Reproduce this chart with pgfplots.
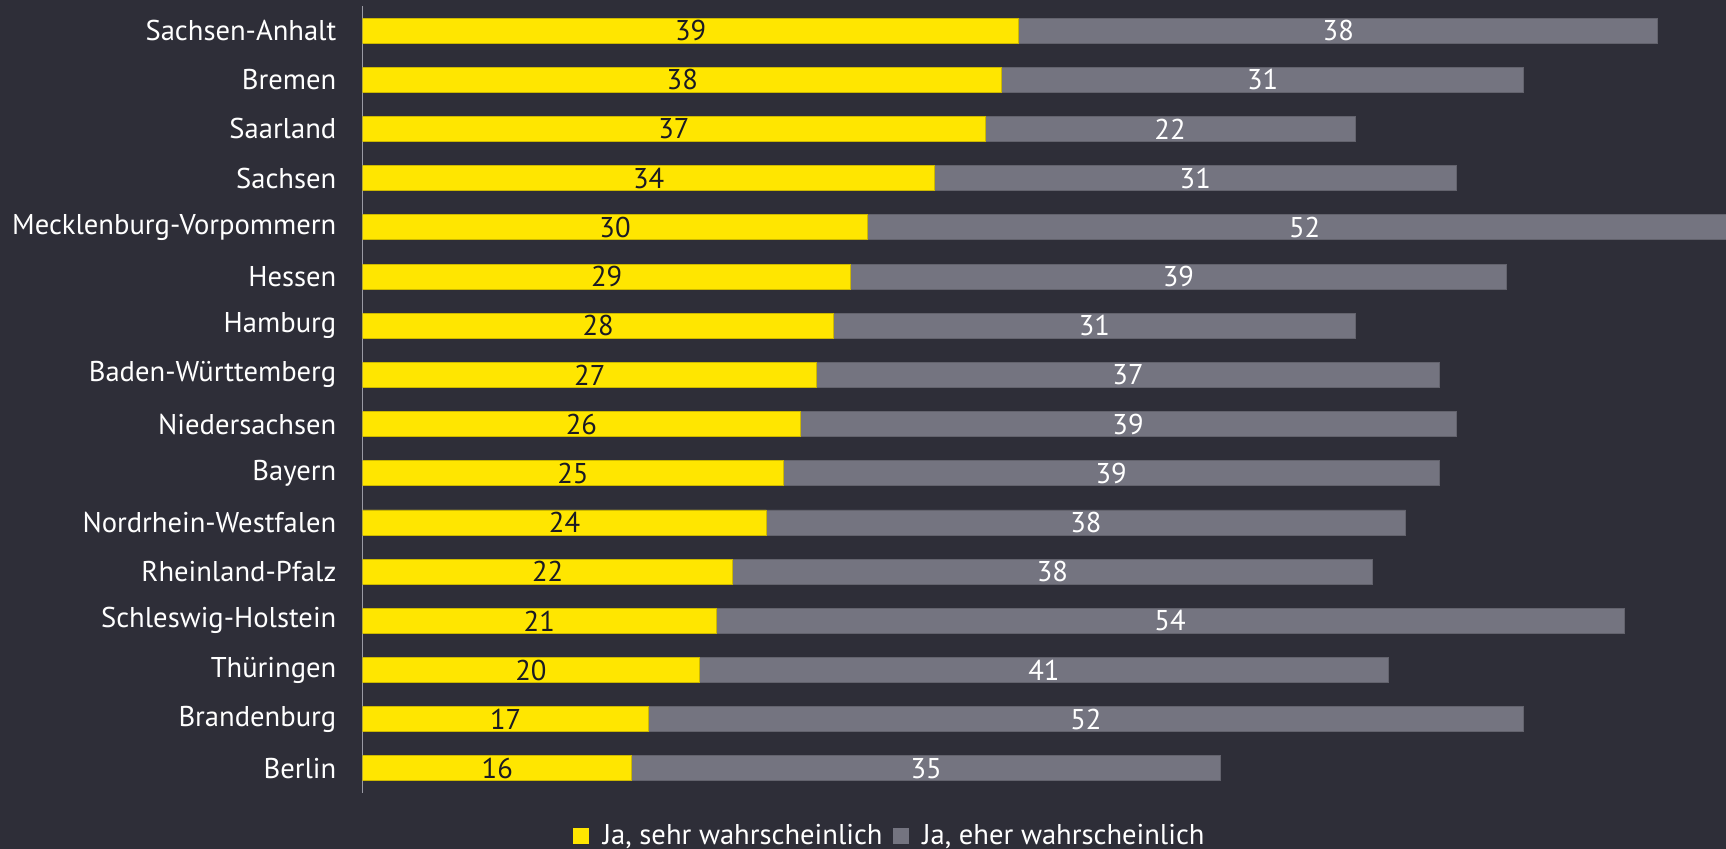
\documentclass[border=0pt]{standalone}
\usepackage{fontspec}
\setmainfont{PT Sans}
\usepackage{pgfplots}
\usepackage{pgfplotstable}
\pgfplotsset{compat=1.18}

\definecolor{bg}{HTML}{2E2E38}
\definecolor{eyyellow}{HTML}{FFE600}
\definecolor{eygray}{HTML}{747480}
\definecolor{axisgray}{HTML}{9A9AA4}
\definecolor{darktext}{HTML}{1A1A24}

% idx 0 = Berlin (bottom) ... 15 = Sachsen-Anhalt (top)
\pgfplotstableread{
idx a  b
0   16 35
1   17 52
2   20 41
3   21 54
4   22 38
5   24 38
6   25 39
7   26 39
8   27 37
9   28 31
10  29 39
11  30 52
12  34 31
13  37 22
14  38 31
15  39 38
}\data
\pgfplotstablecreatecol[expr={\thisrow{a}+\thisrow{b}}]{tot}{\data}
\pgfplotstablecreatecol[expr={\thisrow{a}/2}]{ca}{\data}
\pgfplotstablecreatecol[expr={\thisrow{a}+\thisrow{b}/2}]{cb}{\data}

\begin{document}
\begin{tikzpicture}[x=1pt,y=1pt]
\fill[bg] (0,0) rectangle (863,424.5);
\begin{axis}[
  at={(181.35pt,28pt)}, anchor=south west,
  width=681.65pt, height=393.5pt, scale only axis,
  xmin=0, xmax=81.05, ymin=-0.5, ymax=15.5,
  axis x line=none, axis y line*=left,
  y axis line style={axisgray, line width=0.6pt, -},
  ytick={0,...,15},
  yticklabels={Berlin,Brandenburg,Thüringen,Schleswig-Holstein,Rheinland-Pfalz,Nordrhein-Westfalen,Bayern,Niedersachsen,Baden-Württemberg,Hamburg,Hessen,Mecklenburg-Vorpommern,Sachsen,Saarland,Bremen,Sachsen-Anhalt},
  major tick length=0pt,
  yticklabel style={font=\fontsize{14.3}{16}\selectfont, text=white, inner sep=0pt, xshift=-13pt},
  legend image code/.code={\fill[#1] (0pt,-3.75pt) rectangle (7.5pt,3.75pt);},
  legend style={at={(0.154,-0.0544)}, anchor=west, draw=none, fill=none, inner sep=0pt,
    nodes={inner sep=0pt}, text=white, font=\fontsize{14.3}{16}\selectfont, legend columns=2,
    /tikz/every odd column/.append style={column sep=7pt},
    /tikz/every even column/.append style={column sep=5pt}},
]
\addplot[xbar, bar shift=0pt, bar width=12.5pt, fill=eygray, draw=eygray!85!black, line width=0.4pt, forget plot]
  table[x=tot, y=idx] {\data};
\addplot[xbar, bar shift=0pt, bar width=12.5pt, fill=eyyellow, draw=eyyellow!80!black, line width=0.4pt, forget plot]
  table[x=a, y=idx] {\data};
\addplot[draw=none, no marks, nodes near coords, point meta=explicit symbolic,
  nodes near coords style={anchor=center, text=darktext, font=\fontsize{14.3}{16}\selectfont}, forget plot]
  table[x=ca, y=idx, meta=a] {\data};
\addplot[draw=none, no marks, nodes near coords, point meta=explicit symbolic,
  nodes near coords style={anchor=center, text=white, font=\fontsize{14.3}{16}\selectfont}, forget plot]
  table[x=cb, y=idx, meta=b] {\data};
\addlegendimage{eyyellow}
\addlegendentry{Ja, sehr wahrscheinlich}
\addlegendimage{eygray}
\addlegendentry{Ja, eher wahrscheinlich}
\end{axis}
\pgfresetboundingbox
\useasboundingbox (0,0) rectangle (863,424.5);
\end{tikzpicture}
\end{document}
